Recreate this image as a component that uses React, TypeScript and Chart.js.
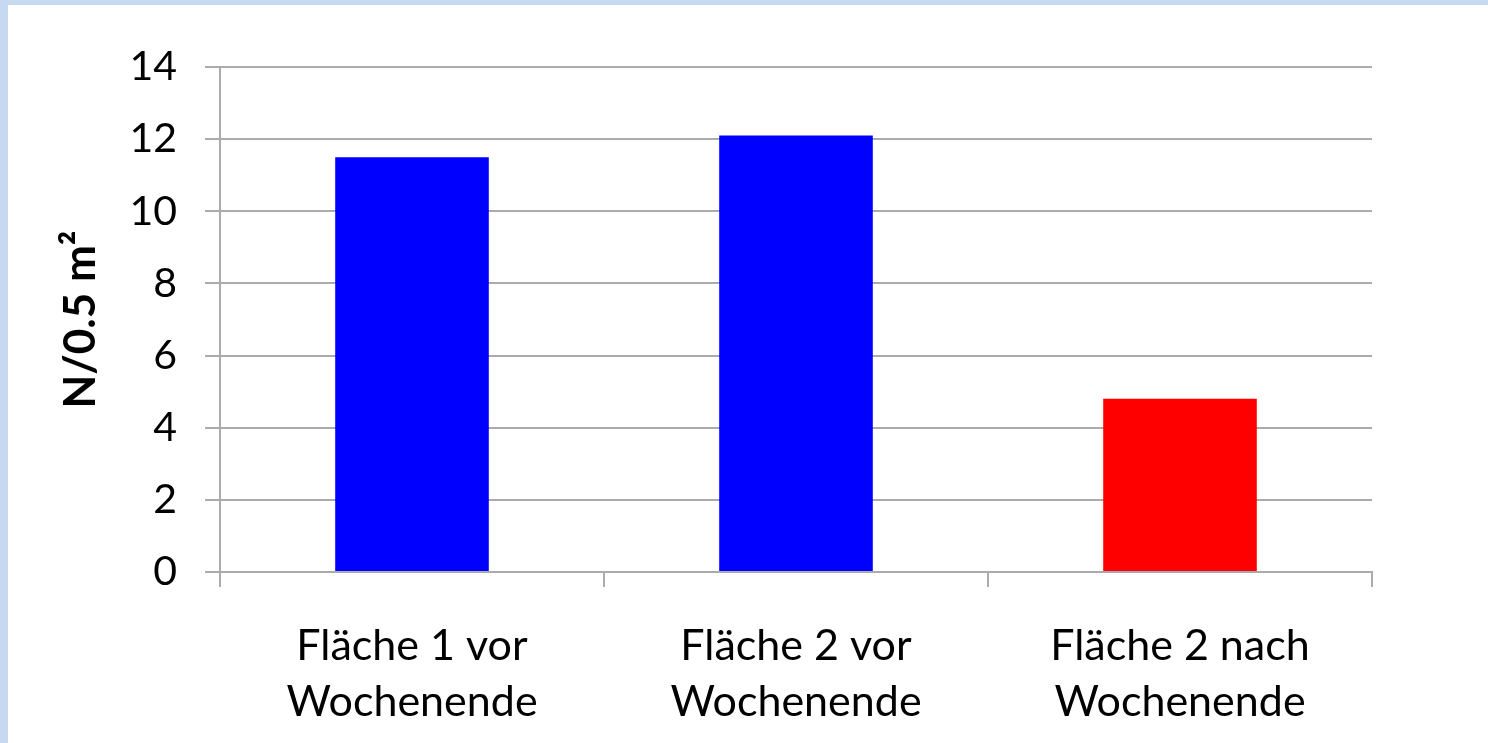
import React, { useEffect, useRef } from "react";
import { Chart, registerables } from "chart.js";

Chart.register(...registerables);

const categories: string[][] = [
  ["Fläche 1 vor", "Wochenende"],
  ["Fläche 2 vor", "Wochenende"],
  ["Fläche 2 nach", "Wochenende"],
];
const values: number[] = [11.5, 12.1, 4.8];
const barColors: string[] = ["#0000ff", "#0000ff", "#ff0000"];
const yTitle = "N/0.5 m²";
const yMin = 0;
const yMax = 14;
const yStep = 2;

const FONT = "Lato";
const GRID = "#ababab";

export default function App() {
  const ref = useRef<HTMLCanvasElement | null>(null);

  useEffect(() => {
    document.body.style.margin = "0";
    const canvas = ref.current;
    if (!canvas) return;
    const chart = new Chart(canvas, {
      type: "bar",
      data: {
        labels: categories,
        datasets: [
          {
            data: values,
            backgroundColor: barColors,
            borderWidth: 0,
            barPercentage: 0.4,
            categoryPercentage: 1,
          },
        ],
      },
      options: {
        animation: false,
        responsive: false,
        devicePixelRatio: 1,
        layout: { padding: { left: 0, top: 62, right: 116, bottom: 0 } },
        plugins: {
          legend: { display: false },
          tooltip: { enabled: false },
          title: { display: false },
        },
        scales: {
          x: {
            offset: true,
            grid: {
              display: true,
              drawOnChartArea: false,
              drawTicks: true,
              tickLength: 15,
              color: GRID,
              lineWidth: 2,
              offset: true,
            },
            border: { display: true, color: GRID, width: 2 },
            ticks: {
              color: "#000000",
              font: { family: FONT, size: 43, lineHeight: 1.3 },
              padding: 31,
              maxRotation: 0,
              autoSkip: false,
            },
            afterFit: (scale: any) => {
              scale.height = 171;
            },
          },
          y: {
            min: yMin,
            max: yMax,
            grid: {
              color: GRID,
              lineWidth: 2,
              tickLength: 15,
              drawTicks: true,
            },
            border: { display: true, color: GRID, width: 2 },
            ticks: {
              stepSize: yStep,
              color: "#000000",
              font: { family: FONT, size: 41 },
              padding: 28,
            },
            title: {
              display: true,
              text: yTitle,
              color: "#000000",
              font: { family: FONT, size: 44, weight: "bold" },
              padding: { top: 46, bottom: 0 },
            },
            afterFit: (scale: any) => {
              scale.width = 212;
            },
          },
        },
      },
    });
    return () => chart.destroy();
  }, []);

  return (
    <div
      style={{
        position: "fixed",
        left: 0,
        top: 0,
        width: 1488,
        height: 743,
        background: "#c6d9f1",
      }}
    >
      <div
        style={{
          position: "absolute",
          left: 8,
          top: 5,
          width: 1480,
          height: 738,
          background: "#ffffff",
        }}
      >
        <canvas ref={ref} width={1480} height={738} style={{ display: "block" }} />
      </div>
    </div>
  );
}
